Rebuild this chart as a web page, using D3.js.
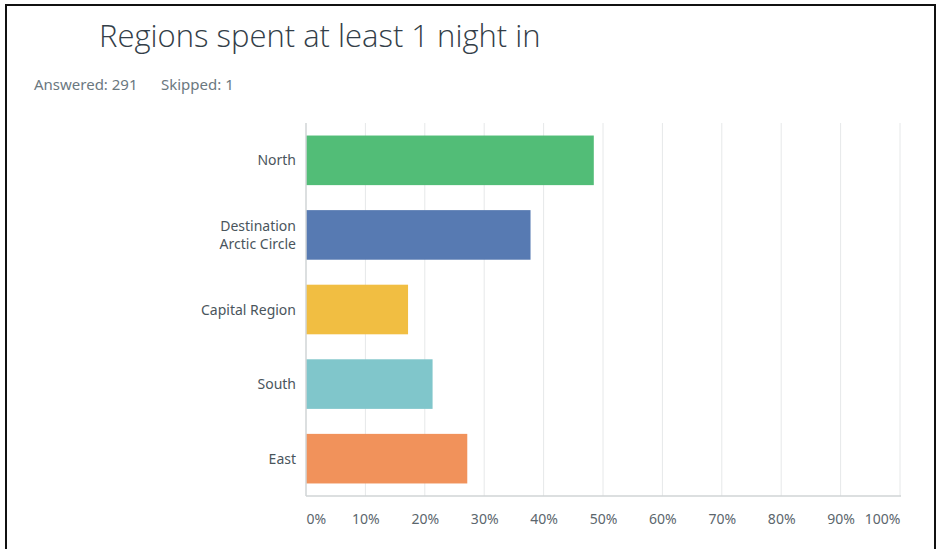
<!DOCTYPE html>
<html>
<head>
<meta charset="utf-8">
<script src="https://cdn.jsdelivr.net/npm/d3@7"></script>
<style>
  html, body { margin: 0; padding: 0; background: #fff; }
  svg { display: block; }
  .title { font-family: "Open Sans", "Noto Sans", sans-serif; font-weight: 300; }
  .txt { font-family: "Noto Sans", "Open Sans", sans-serif; }
</style>
</head>
<body>
<svg id="chart" width="943" height="549"></svg>
<script>
// Survey responses: share of respondents who spent at least one night in each region
const categories = ["North", "Destination\nArctic Circle", "Capital Region", "South", "East"];
const values = [48.45, 37.80, 17.18, 21.31, 27.15];
const colors = ["#52bd77", "#577ab2", "#f1be42", "#80c6cb", "#f1925b"];
const tickValues = [0, 10, 20, 30, 40, 50, 60, 70, 80, 90, 100];
const answered = 291;
const skipped = 1;

const svg = d3.select("#chart");

// Outer frame
svg.append("rect")
  .attr("x", 6).attr("y", 5)
  .attr("width", 929).attr("height", 560)
  .attr("fill", "none").attr("stroke", "#111").attr("stroke-width", 2);

svg.append("text").attr("class", "title")
  .attr("x", 99).attr("y", 47)
  .attr("font-size", 31).attr("fill", "#333e48")
  .text("Regions spent at least 1 night in");

svg.append("text").attr("class", "txt")
  .attr("x", 34).attr("y", 90)
  .attr("font-size", 15).attr("fill", "#6b787f")
  .text(`Answered: ${answered}`);
svg.append("text").attr("class", "txt")
  .attr("x", 161).attr("y", 90)
  .attr("font-size", 15).attr("fill", "#6b787f")
  .text(`Skipped: ${skipped}`);

const plotLeft = 306, plotRight = 900, plotTop = 123, plotBottom = 496;

const x = d3.scaleLinear().domain([0, 100]).range([plotLeft, plotRight]);
const y = d3.scaleBand().domain(categories).range([plotTop, plotBottom])
  .paddingInner(0.335).paddingOuter(0.168);

// Vertical grid lines
svg.append("g").selectAll("line")
  .data(tickValues.slice(1))
  .join("line")
  .attr("x1", d => x(d)).attr("x2", d => x(d))
  .attr("y1", plotTop).attr("y2", plotBottom)
  .attr("stroke", "#e6e8e9").attr("stroke-width", 1);

// Bars
svg.append("g").selectAll("rect")
  .data(categories)
  .join("rect")
  .attr("x", x(0))
  .attr("y", d => y(d))
  .attr("width", (d, i) => x(values[i]) - x(0))
  .attr("height", y.bandwidth())
  .attr("fill", (d, i) => colors[i]);

// Axis lines
svg.append("line")
  .attr("x1", plotLeft).attr("x2", plotLeft).attr("y1", plotTop).attr("y2", plotBottom)
  .attr("stroke", "#d0d4d6").attr("stroke-width", 1.5);
svg.append("line")
  .attr("x1", plotLeft).attr("x2", plotRight + 1).attr("y1", plotBottom).attr("y2", plotBottom)
  .attr("stroke", "#d0d4d6").attr("stroke-width", 1.5);

// X tick labels
const xAxis = d3.axisBottom(x).tickValues(tickValues)
  .tickFormat(d => d + "%").tickSize(0).tickPadding(0);
const gx = svg.append("g").attr("transform", `translate(0,${plotBottom + 28})`).call(xAxis);
gx.select(".domain").remove();
gx.selectAll("text")
  .attr("class", "txt")
  .attr("font-size", 14).attr("fill", "#5b666d")
  .attr("font-family", "'Noto Sans', sans-serif")
  .attr("dy", 0)
  .attr("text-anchor", (d, i) => i === 0 ? "start" : (i === tickValues.length - 1 ? "end" : "middle"));

// Y category labels
const yLabels = svg.append("g");
categories.forEach(c => {
  const lines = c.split("\n");
  const cy = y(c) + y.bandwidth() / 2;
  const t = yLabels.append("text").attr("class", "txt")
    .attr("x", 296).attr("text-anchor", "end")
    .attr("font-size", 14).attr("fill", "#4a555c");
  lines.forEach((ln, j) => {
    t.append("tspan").attr("x", 296)
      .attr("y", cy + 5 + (j - (lines.length - 1) / 2) * 18)
      .text(ln);
  });
});
</script>
</body>
</html>
